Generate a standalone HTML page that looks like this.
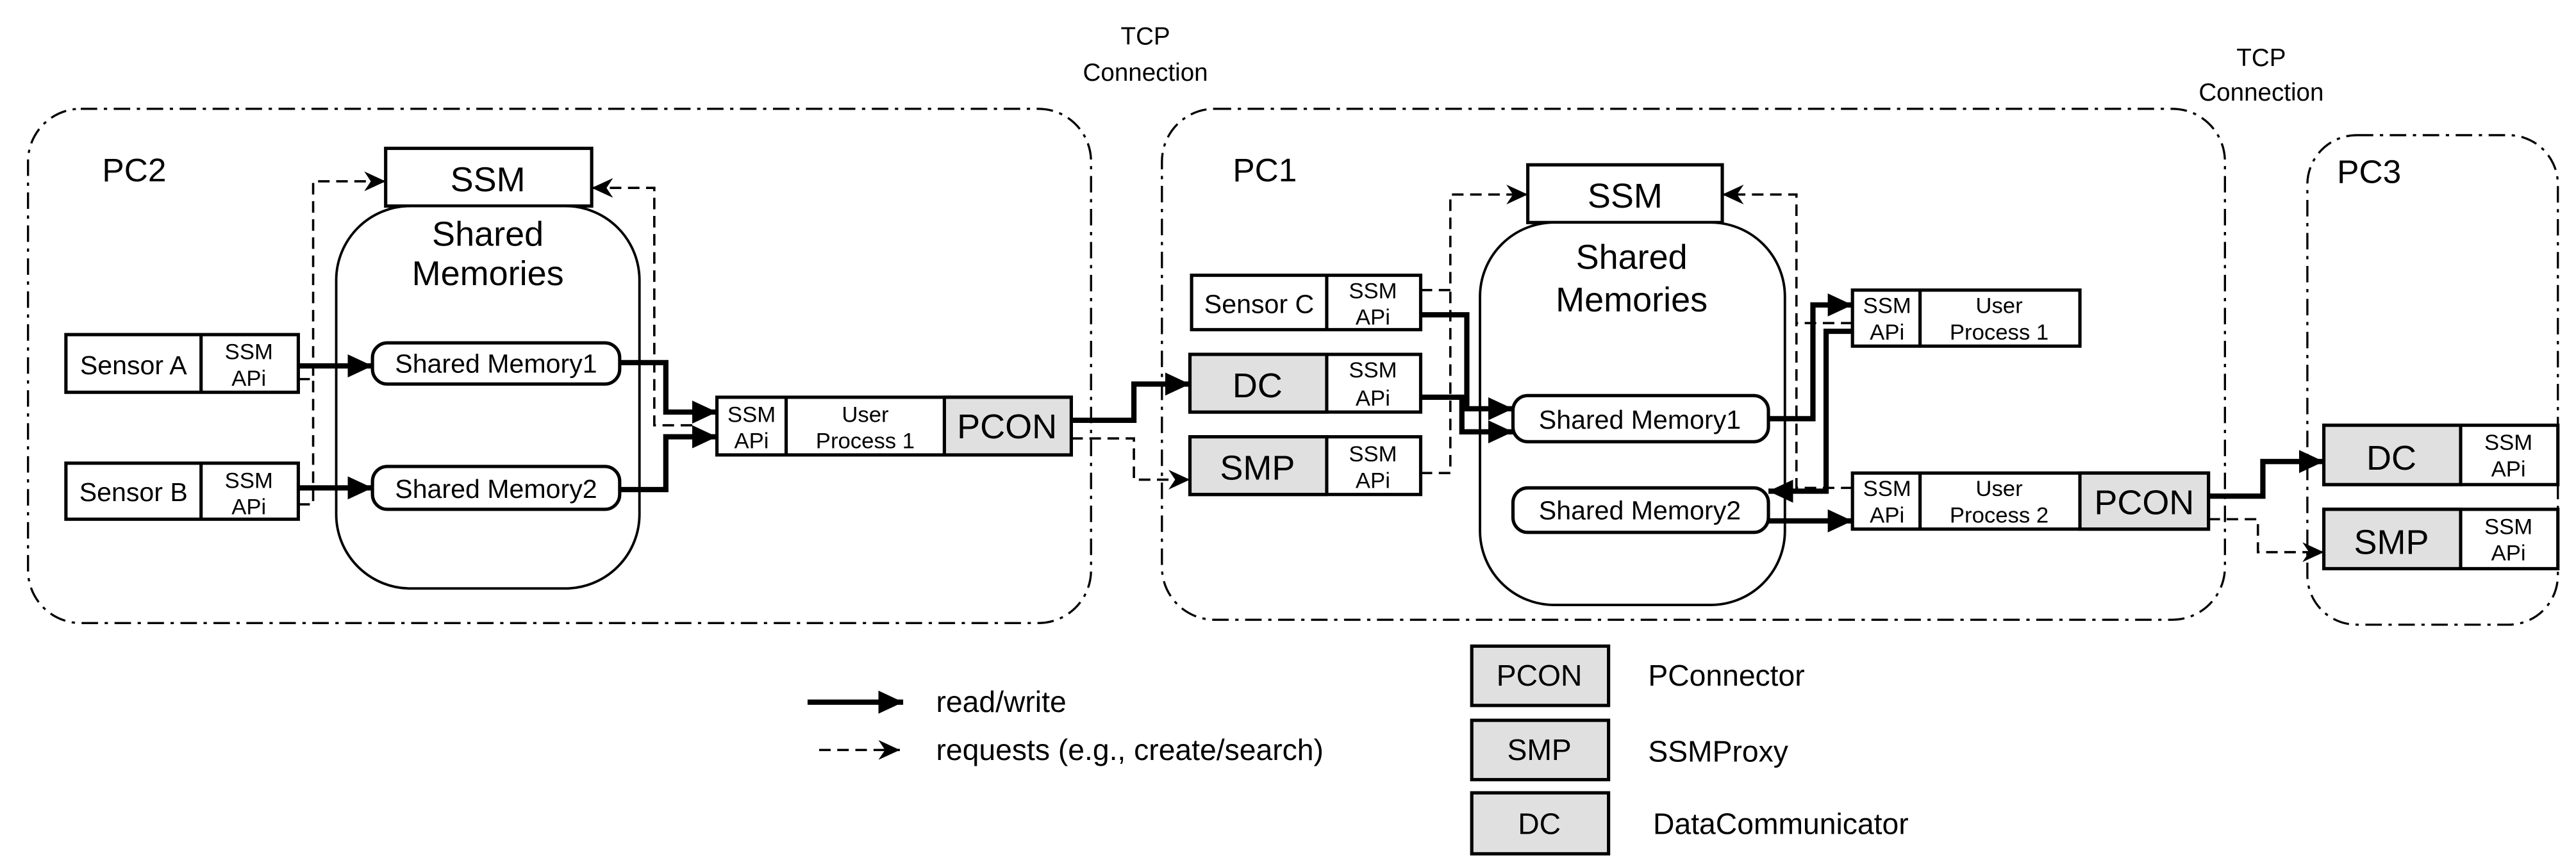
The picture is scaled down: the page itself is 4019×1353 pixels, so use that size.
<!DOCTYPE html>
<html><head><meta charset="utf-8"><style>
html,body{margin:0;padding:0;background:#fff;}
svg{display:block;}
text{font-family:"Liberation Sans",sans-serif;fill:#000;}
</style></head><body>
<svg width="4019" height="1353" viewBox="0 0 1563 526" preserveAspectRatio="none" xmlns="http://www.w3.org/2000/svg">
<defs>
<marker id="a" markerUnits="userSpaceOnUse" markerWidth="16" markerHeight="16" refX="15" refY="8" orient="auto"><path d="M0,1 L15,8 L0,15 Z" fill="#000"/></marker>
<marker id="d" markerUnits="userSpaceOnUse" markerWidth="14" markerHeight="14" refX="13" refY="7" orient="auto"><path d="M0,1 L13,7 L0,13 L4,7 Z" fill="#000"/></marker>
</defs>
<g fill="none" stroke="#000" stroke-width="1.3" stroke-dasharray="10 4 2 4">
<rect x="17" y="66" width="645" height="312" rx="32"/>
<rect x="705" y="66" width="645" height="310" rx="32"/>
<rect x="1400" y="82" width="152" height="297" rx="30"/>
</g>
<g font-size="15" text-anchor="middle">
<text x="695" y="27">TCP</text><text x="695" y="49">Connection</text>
<text x="1372" y="40">TCP</text><text x="1372" y="61">Connection</text>
</g>
<g font-size="20"><text x="62" y="110">PC2</text><text x="748" y="110">PC1</text><text x="1418" y="111">PC3</text></g>

<g stroke="#000" stroke-width="2" fill="#fff">
<rect x="234" y="90" width="125" height="35"/>
<rect x="204" y="125" width="184" height="232" rx="45" stroke-width="1.5"/>
<rect x="40" y="203" width="141" height="35"/><line x1="122" y1="203" x2="122" y2="238"/>
<rect x="40" y="281" width="141" height="34"/><line x1="122" y1="281" x2="122" y2="315"/>
<rect x="226" y="208" width="150" height="25" rx="9"/>
<rect x="226" y="283" width="150" height="26" rx="9"/>
<rect x="435" y="241" width="215" height="35"/>
<rect x="573" y="241" width="77" height="35" fill="#e0e0e0"/>
<line x1="477" y1="241" x2="477" y2="276"/>

<rect x="927" y="100" width="118" height="35"/>
<rect x="898" y="135" width="185" height="232" rx="45" stroke-width="1.5"/>
<rect x="723" y="167" width="139" height="33"/><line x1="805" y1="167" x2="805" y2="200"/>
<rect x="722" y="215" width="140" height="35"/><rect x="722" y="215" width="83" height="35" fill="#e0e0e0"/>
<rect x="722" y="265" width="140" height="35"/><rect x="722" y="265" width="83" height="35" fill="#e0e0e0"/>
<rect x="918" y="240" width="155" height="28" rx="9"/>
<rect x="918" y="296" width="155" height="27" rx="9"/>
<rect x="1124" y="176" width="138" height="34"/><line x1="1165" y1="176" x2="1165" y2="210"/>
<rect x="1124" y="287" width="216" height="34"/><line x1="1165" y1="287" x2="1165" y2="321"/>
<rect x="1262" y="287" width="78" height="34" fill="#e0e0e0"/>

<rect x="1410" y="258" width="142" height="36"/><rect x="1410" y="258" width="83" height="36" fill="#e0e0e0"/>
<rect x="1410" y="309" width="142" height="36"/><rect x="1410" y="309" width="83" height="36" fill="#e0e0e0"/>

<rect x="893" y="392" width="83" height="36" fill="#e0e0e0"/>
<rect x="893" y="437" width="83" height="36" fill="#e0e0e0"/>
<rect x="893" y="481" width="83" height="37" fill="#e0e0e0"/>
</g>

<g font-size="21" text-anchor="middle">
<text x="296" y="116">SSM</text><text x="296" y="149">Shared</text><text x="296" y="173">Memories</text>
<text x="986" y="126">SSM</text><text x="990" y="163">Shared</text><text x="990" y="189">Memories</text>
<text x="611" y="266">PCON</text><text x="1301" y="312">PCON</text>
<text x="763" y="241">DC</text><text x="763" y="291">SMP</text>
<text x="1451" y="285">DC</text><text x="1451" y="336">SMP</text>
</g>
<g font-size="16" text-anchor="middle">
<text x="81" y="227">Sensor A</text><text x="81" y="304">Sensor B</text><text x="764" y="190">Sensor C</text>
<text x="301" y="226">Shared Memory1</text><text x="301" y="302">Shared Memory2</text>
<text x="995" y="260">Shared Memory1</text><text x="995" y="315">Shared Memory2</text>
</g>
<g font-size="13.5" text-anchor="middle">
<text x="151" y="218">SSM</text><text x="151" y="234">APi</text>
<text x="151" y="296">SSM</text><text x="151" y="312">APi</text>
<text x="456" y="256">SSM</text><text x="456" y="272">APi</text>
<text x="525" y="256">User</text><text x="525" y="272">Process 1</text>
<text x="833" y="181">SSM</text><text x="833" y="197">APi</text>
<text x="833" y="229">SSM</text><text x="833" y="246">APi</text>
<text x="833" y="280">SSM</text><text x="833" y="296">APi</text>
<text x="1145" y="190">SSM</text><text x="1145" y="206">APi</text>
<text x="1213" y="190">User</text><text x="1213" y="206">Process 1</text>
<text x="1145" y="301">SSM</text><text x="1145" y="317">APi</text>
<text x="1213" y="301">User</text><text x="1213" y="317">Process 2</text>
<text x="1522" y="273">SSM</text><text x="1522" y="289">APi</text>
<text x="1522" y="324">SSM</text><text x="1522" y="340">APi</text>
</g>

<g fill="none" stroke="#000" stroke-width="3.2">
<path d="M181,222 H226" marker-end="url(#a)"/>
<path d="M181,296 H226" marker-end="url(#a)"/>
<path d="M376,220 H404 V250 H435" marker-end="url(#a)"/>
<path d="M376,297 H404 V265 H435" marker-end="url(#a)"/>
<path d="M650,255 H688 V233 H722" marker-end="url(#a)"/>
<path d="M862,191 H890 V248 H918" marker-end="url(#a)"/>
<path d="M862,241 H887 V262 H918" marker-end="url(#a)"/>
<path d="M1073,254 H1100 V185 H1124" marker-end="url(#a)"/>
<path d="M1124,201 H1108 V298 H1073" marker-end="url(#a)"/>
<path d="M1073,316 H1124" marker-end="url(#a)"/>
<path d="M1340,301 H1373 V280 H1410" marker-end="url(#a)"/>
<path d="M490,426 H548" marker-end="url(#a)"/>
</g>
<g fill="none" stroke="#000" stroke-width="1.4" stroke-dasharray="7 4">
<path d="M181,230 H190 V110 H234" marker-end="url(#d)"/>
<path d="M181,306 H190 V230"/>
<path d="M420,258 H397 V114 H359" marker-end="url(#d)"/>
<path d="M650,266 H688 V291 H722" marker-end="url(#d)"/>
<path d="M862,176 H880 V118 H927" marker-end="url(#d)"/>
<path d="M862,287 H880 V176"/>
<path d="M1124,196 H1090 V118 H1045" marker-end="url(#d)"/>
<path d="M1124,296 H1090 V196"/>
<path d="M1340,315 H1370 V335 H1410" marker-end="url(#d)"/>
<path d="M497,455 H546" marker-end="url(#d)"/>
</g>

<g font-size="18">
<text x="568" y="432">read/write</text>
<text x="568" y="461">requests (e.g., create/search)</text>
<text x="1000" y="416">PConnector</text>
<text x="1000" y="462">SSMProxy</text>
<text x="1003" y="506">DataCommunicator</text>
</g>
<g font-size="18" text-anchor="middle">
<text x="934" y="416">PCON</text><text x="934" y="461">SMP</text><text x="934" y="506">DC</text>
</g>
</svg>
</body></html>
